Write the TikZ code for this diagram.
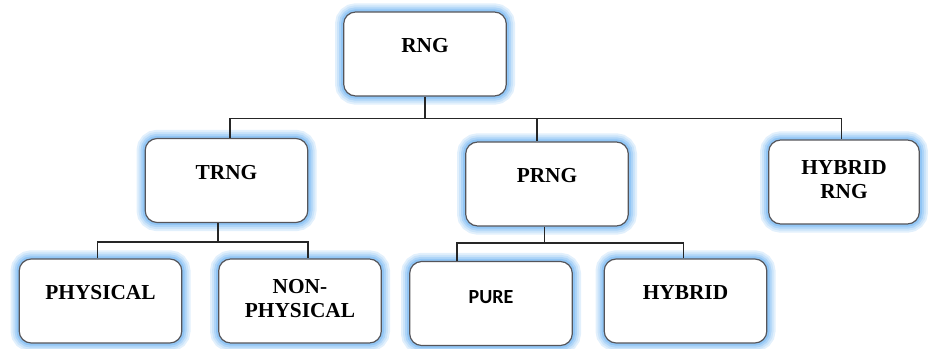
\documentclass[tikz,border=0pt]{standalone}
\usepackage{fontspec}
\setmainfont{Liberation Serif}
\newfontfamily\purefont{Carlito}
\usetikzlibrary{positioning, calc}
\definecolor{glowblue}{RGB}{140,195,245}
\definecolor{boxgray}{RGB}{85,85,90}

\begin{document}
\begin{tikzpicture}[x=0.75pt, y=-0.75pt,
    box/.style={draw=boxgray, line width=0.9pt, fill=white, rounded corners=9pt,
        minimum width=122pt, minimum height=63pt,
        preaction={draw=glowblue!25, line width=13pt},
        preaction={draw=glowblue!45, line width=10pt},
        preaction={draw=glowblue!70, line width=7pt},
        preaction={draw=glowblue!95, line width=4pt}},
    lbl/.style={font=\fontsize{16}{18}\selectfont\bfseries, align=center, inner sep=0pt},
    wire/.style={draw=black!85, line width=0.8pt}]
    \useasboundingbox (0,0) rectangle (928,349);

    % top
    \node[box] (rng) at (425,54) {};
    \node[lbl] (rng-lbl) at ([yshift=6pt]rng.center) {RNG};

    % second row
    \node[box] (trng) at (226.5,180.5) {};
    \node[lbl] (trng-lbl) at ([yshift=6pt]trng.center) {TRNG};
    \node[box] (prng) at (547,184) {};
    \node[lbl] (prng-lbl) at ([yshift=6pt]prng.center) {PRNG};
    \node[box, minimum width=113pt] (hrng) at (844,182) {};
    \node[lbl] (hrng-lbl) at ([yshift=1.5pt]hrng.center) {HYBRID\\RNG};

    % third row
    \node[box] (phys) at (100.5,301) {};
    \node[lbl] (phys-lbl) at ([yshift=6pt]phys.center) {PHYSICAL};
    \node[box] (nphys) at (300,301) {};
    \node[lbl] (nphys-lbl) at ([yshift=1.5pt]nphys.center) {NON-\\PHYSICAL};
    \node[box] (pure) at (491,303.5) {};
    \node[lbl, font=\purefont\fontsize{15}{18}\selectfont\bfseries] (pure-lbl) at ([yshift=5pt]pure.center) {PURE};
    \node[box] (hyb) at (685.5,301) {};
    \node[lbl] (hyb-lbl) at ([yshift=6pt]hyb.center) {HYBRID};

    % buses
    \coordinate (bus1) at (rng.south |- 0,118.5);
    \coordinate (bus2) at ([xshift=-6.4pt]trng.south |- 0,242);
    \coordinate (bus3) at ([xshift=-2.2pt]prng.south |- 0,243);

    % connectors
    \draw[wire] (rng.south) -- (bus1);
    \draw[wire] (bus1) -| ([xshift=2.6pt]trng.north);
    \draw[wire] (bus1) -| ([xshift=-7.5pt]prng.north);
    \draw[wire] (bus1) -| ([xshift=-2.2pt]hrng.north);

    \draw[wire] ([xshift=-6.4pt]trng.south) -- (bus2);
    \draw[wire] (bus2) -| ([xshift=-2pt]phys.north);
    \draw[wire] (bus2) -| ([xshift=6pt]nphys.north);

    \draw[wire] ([xshift=-2.2pt]prng.south) -- (bus3);
    \draw[wire] (bus3) -| ([xshift=-25.5pt]pure.north);
    \draw[wire] (bus3) -| ([xshift=-1.5pt]hyb.north);
\end{tikzpicture}
\end{document}
